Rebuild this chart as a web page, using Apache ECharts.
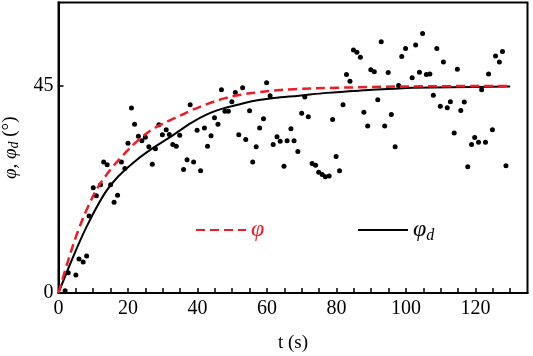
<!DOCTYPE html>
<html>
<head>
<meta charset="utf-8">
<script src="https://cdn.jsdelivr.net/npm/echarts@6/dist/echarts.min.js"></script>
<style>
  html, body { margin: 0; padding: 0; background: #fff; }
  #chart { width: 533px; height: 356px; }
</style>
</head>
<body>
<div id="chart"></div>
<script>
// measured points (t in s, angle in degrees)
const pointT = [1.9,2.8,5.0,5.9,7.1,8.1,8.8,10.0,10.9,12.1,
  13.0,14.0,15.0,16.0,17.0,18.1,19.1,20.0,21.0,21.9,
  23.0,24.0,25.0,26.0,27.0,27.9,28.9,29.9,31.0,31.9,
  32.9,33.9,34.9,36.0,37.0,37.9,38.9,39.9,40.9,42.0,
  42.9,43.9,44.9,45.9,46.9,47.9,48.9,49.9,50.9,51.9,
  53.0,53.9,55.0,55.9,56.9,57.9,59.0,59.9,60.9,61.8,
  62.9,63.8,64.9,65.8,66.9,67.8,68.9,70.0,70.9,71.9,
  73.0,74.0,74.9,75.9,76.8,77.9,78.9,79.9,80.9,81.9,
  82.9,83.9,84.9,85.9,86.9,87.9,89.0,89.9,90.9,91.9,
  92.9,93.9,94.9,95.8,96.9,97.9,98.8,99.9,101.8,102.8,
  103.9,104.8,105.9,106.9,107.9,108.9,109.9,110.8,111.9,112.8,
  113.9,114.8,115.8,116.8,117.8,118.9,119.8,120.9,121.8,122.9,
  123.8,124.9,125.8,126.9,127.8,128.8]
const pointV = [0.5,4.4,3.9,7.4,6.7,8.0,16.7,22.8,21.1,23.5,
  28.4,27.8,23.5,19.7,21.2,28.4,27.0,32.5,40.1,36.6,
  34.0,33.0,33.8,31.7,27.9,31.3,36.5,34.3,35.4,34.4,
  32.2,31.8,34.2,26.8,28.9,40.8,28.4,35.3,26.5,35.8,
  31.8,34.1,38.0,36.6,44.1,39.4,39.4,41.5,43.5,34.3,
  44.5,33.3,39.5,28.4,31.7,35.8,37.8,45.6,42.8,32.2,
  33.9,32.9,27.5,33.0,35.6,33.0,30.7,39.0,42.5,38.2,
  28.1,27.7,26.2,25.7,25.2,25.4,37.6,29.6,26.5,40.8,
  47.4,45.9,52.7,52.2,51.1,39.2,36.2,48.4,48.0,41.9,
  54.5,36.2,47.8,38.7,31.7,45.0,51.3,53.0,46.7,53.8,
  47.9,56.3,47.4,47.5,42.9,53.0,40.5,50.1,40.2,41.5,
  34.7,48.5,39.6,41.4,27.4,32.2,33.7,32.7,44.1,32.7,
  47.5,35.4,51.4,50.1,52.4,27.6]

// phi curve (red dashed)
const phiT = [0,2.8,5.7,8.5,11.4,14.8,18.1,22.9,27.7,33.4,38.2,42.9,47.7,52.5,57.2,62.0,67.8,80,101,130]
const phiV = [0,7.1,13.6,18.7,23.0,26.6,29.5,33.1,35.8,37.9,39.6,41.0,42.2,43.0,43.5,43.9,44.2,44.5,44.8,44.9]

// phi_d curve (black solid)
const phiDT = [0,3.8,8.1,13.3,17.1,22.4,27.7,32.9,38.2,42.9,47.7,52.5,57.2,62.0,69.2,77.3,86.9,96.4,102,130]
const phiDV = [0,7.1,14.4,21.6,25.2,28.8,31.7,34.2,36.9,38.8,40.1,41.0,41.8,42.3,42.8,43.4,43.9,44.3,44.5,44.8]

const xTicks = [0, 20, 40, 60, 80, 100, 120]
const yTicks = [0, 45]

const pairs = (a, b) => a.map((v, i) => [v, b[i]])

const chart = echarts.init(document.getElementById('chart'))
const serif = 'Liberation Serif'
const red = '#ee1c24'

const legendRich = {
  a: { fontFamily: serif, fontStyle: 'italic', fontSize: 24 },
  b: { fontFamily: serif, fontStyle: 'italic', fontSize: 16, padding: [12, 0, 0, 0] }
}
const tickRich = { n: { fontFamily: serif, fontSize: 20, color: '#000' } }

const option = {
  animation: false,
  backgroundColor: '#fff',
  grid: {
    left: 58.5,
    right: 5.5,
    top: 2.5,
    bottom: 63,
    outerBoundsMode: 'none',
    containLabel: false,
    show: true,
    borderColor: '#000',
    borderWidth: 2
  },
  legend: [
    {
      data: ['φ'],
      left: 190,
      top: 213,
      itemWidth: 50,
      itemHeight: 14,
      itemGap: 0,
      itemStyle: { opacity: 0 },
      textStyle: { color: red, rich: legendRich },
      formatter: () => '{a|φ}'
    },
    {
      data: ['φd'],
      left: 352,
      top: 213,
      itemWidth: 50,
      itemHeight: 14,
      itemStyle: { opacity: 0 },
      textStyle: { color: '#000', rich: legendRich },
      formatter: () => '{a|φ}{b|d}'
    }
  ],
  xAxis: {
    type: 'value',
    min: 0,
    max: 135,
    interval: 5,
    name: 't (s)',
    nameLocation: 'middle',
    nameGap: 41,
    nameTextStyle: { fontFamily: serif, fontSize: 19, color: '#000' },
    axisLine: { lineStyle: { color: '#000', width: 2 } },
    axisTick: { inside: true, length: 5, lineStyle: { color: '#000', width: 1.5 } },
    axisLabel: {
      margin: 6,
      showMaxLabel: false,
      fontFamily: serif,
      fontSize: 20,
      color: '#000',
      rich: tickRich,
      formatter: v => (xTicks.includes(v) ? '{n|' + v + '}' : '')
    },
    splitLine: { show: false }
  },
  yAxis: {
    type: 'value',
    min: 0,
    max: 63,
    interval: 45,
    name: '{a|φ, φ}{b|d}{c| (°)}',
    nameLocation: 'middle',
    nameGap: 37,
    nameTextStyle: {
      color: '#000',
      rich: {
        a: { fontFamily: serif, fontStyle: 'italic', fontSize: 19 },
        b: { fontFamily: serif, fontStyle: 'italic', fontSize: 14, padding: [8, 0, 0, 0] },
        c: { fontFamily: serif, fontSize: 19 }
      }
    },
    axisLine: { lineStyle: { color: '#000', width: 2 } },
    axisTick: { inside: true, length: 5, lineStyle: { color: '#000', width: 1.5 } },
    axisLabel: {
      margin: 5,
      showMaxLabel: false,
      fontFamily: serif,
      fontSize: 20,
      color: '#000',
      rich: tickRich,
      formatter: v => (yTicks.includes(v) ? '{n|' + v + '}' : '')
    },
    splitLine: { show: false }
  },
  series: [
    {
      name: 'data',
      type: 'scatter',
      symbolSize: 5,
      itemStyle: { color: '#000', opacity: 1 },
      data: pairs(pointT, pointV),
      z: 3
    },
    {
      name: 'φd',
      type: 'line',
      smooth: 0.35,
      symbol: 'none',
      lineStyle: { color: '#000', width: 2 },
      itemStyle: { color: '#000' },
      data: pairs(phiDT, phiDV),
      z: 4
    },
    {
      name: 'φ',
      type: 'line',
      smooth: 0.35,
      symbol: 'none',
      lineStyle: { color: red, width: 2.5, type: [9, 5] },
      itemStyle: { color: red },
      data: pairs(phiT, phiV),
      z: 5
    }
  ]
}
chart.setOption(option)
</script>
</body>
</html>
